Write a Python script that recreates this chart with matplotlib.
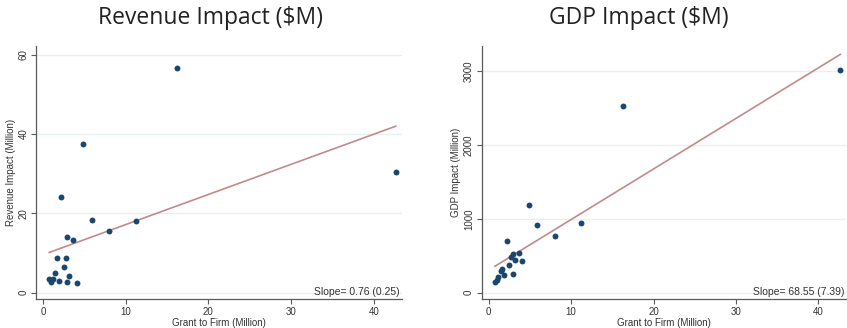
import numpy as np
import matplotlib
matplotlib.use("Agg")
import matplotlib.pyplot as plt

# firm-level values
grant = [16.25, 4.85, 42.65, 2.22, 5.9, 11.2, 8.0, 2.95, 3.65, 1.65,
         2.75, 2.5, 1.45, 3.2, 0.75, 1.15, 0.95, 1.9, 2.9, 4.1]
revenue = [56.6, 37.6, 30.5, 24.0, 18.4, 18.0, 15.5, 13.9, 13.3, 8.6,
           8.6, 6.5, 5.0, 4.3, 3.5, 3.4, 2.6, 3.0, 2.6, 2.3]
gdp = [2534, 1186, 3014, 697, 914, 941, 769, 525, 534, 326,
       489, 371, 299, 443, 149, 208, 172, 240, 253, 434]

titles = ["Revenue Impact ($M)", "GDP Impact ($M)"]
ylabels = ["Revenue Impact (Million)", "GDP Impact (Million)"]
slopes = [0.76, 68.55]
slope_se = [0.25, 7.39]
intercepts = [9.55, 306.0]
yticks = [[0, 20, 40, 60], [0, 1000, 2000, 3000]]
ylims = [(-1.7, 62.1), (-90, 3338)]

navy = "#1a476f"
fitc = "#c28a8c"
grid = "#e8f1f2"
axc = "#5a5a5a"

plt.rcParams["font.family"] = ["Liberation Sans", "DejaVu Sans"]

fig = plt.figure(figsize=(8.47, 3.28), dpi=100)
axes = [fig.add_axes([0.0425, 0.0875, 0.432, 0.771]),
        fig.add_axes([0.5687, 0.0875, 0.4307, 0.771])]
title_x = [0.248, 0.754]

for i, ax in enumerate(axes):
    y = [revenue, gdp][i]
    ax.scatter(grant, y, s=18, color=navy, zorder=3, linewidths=0)
    xs = np.array([min(grant), max(grant)])
    ax.plot(xs, intercepts[i] + slopes[i] * xs, color=fitc, lw=1.2, zorder=2)

    ax.set_xlim(-0.85, 43.4)
    ax.set_ylim(*ylims[i])
    ax.set_xticks([0, 10, 20, 30, 40])
    ax.set_yticks(yticks[i])
    ax.set_yticklabels([str(t) for t in yticks[i]], rotation=90, va="center")
    ax.grid(axis="y", color=grid, lw=1.0)
    ax.set_axisbelow(True)
    for s in ["top", "right"]:
        ax.spines[s].set_visible(False)
    for s in ["left", "bottom"]:
        ax.spines[s].set_color(axc)
        ax.spines[s].set_linewidth(0.9)
    ax.tick_params(colors="#333333", labelsize=7, length=3.5, width=0.8,
                   pad=2, color=axc)
    ax.set_xlabel("Grant to Firm (Million)", fontsize=7, color="#333333", labelpad=1)
    ax.set_ylabel(ylabels[i], fontsize=7, color="#333333", labelpad=2)
    ax.text(0.995, 0.008, f"Slope= {slopes[i]:.2f} ({slope_se[i]:.2f})",
            transform=ax.transAxes, ha="right", va="bottom", fontsize=7.5,
            color="#333333")
    fig.text(title_x[i], 0.945, titles[i], ha="center", va="center",
             fontsize=16.5, family="Open Sans", color="#222222")

fig.savefig("out.png", dpi=100)
